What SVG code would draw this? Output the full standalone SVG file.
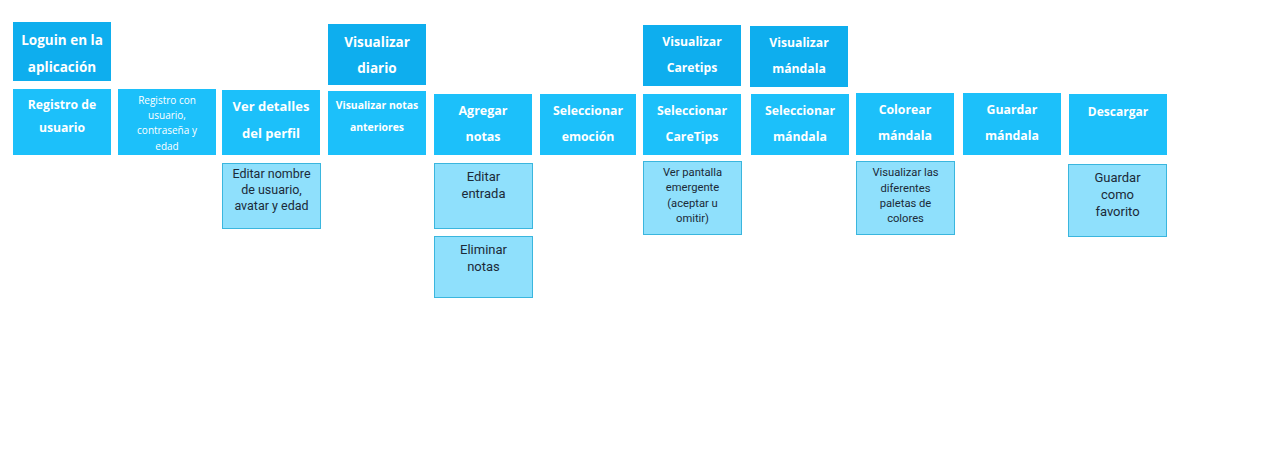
<svg xmlns="http://www.w3.org/2000/svg" width="1274" height="454" viewBox="0 0 1274 454">
<style>
.top{fill:#0eaeee}
.mid{fill:#1cc0fa}
.sub{fill:#8fe0fc;stroke:#3ab6de;stroke-width:1}
.tb{font-family:"Open Sans","Liberation Sans",sans-serif;font-weight:bold;fill:#ffffff;text-anchor:middle}
.ts{font-family:Roboto,"Liberation Sans",sans-serif;fill:#1b2a38;text-anchor:middle}
</style>
<rect width="1274" height="454" fill="#ffffff"/>
<g id="loguin"><rect class="top" x="13" y="22" width="98" height="59"/><text class="tb" font-size="13.5"><tspan x="62" y="45">Loguin en la</tspan><tspan x="62" y="72">aplicación</tspan></text></g>
<g id="visualizar-diario"><rect class="top" x="328" y="24" width="98" height="61"/><text class="tb" font-size="13.5"><tspan x="377" y="47">Visualizar</tspan><tspan x="377" y="73">diario</tspan></text></g>
<g id="visualizar-caretips"><rect class="top" x="643" y="25" width="98" height="61"/><text class="tb" font-size="12.2"><tspan x="692" y="46">Visualizar</tspan><tspan x="692" y="72">Caretips</tspan></text></g>
<g id="visualizar-mandala"><rect class="top" x="750" y="26" width="98" height="61"/><text class="tb" font-size="12.2"><tspan x="799" y="47">Visualizar</tspan><tspan x="799" y="73">mándala</tspan></text></g>

<g id="registro-usuario"><rect class="mid" x="13" y="89" width="98" height="66"/><text class="tb" font-size="12.2"><tspan x="62" y="109">Registro de</tspan><tspan x="62" y="132">usuario</tspan></text></g>
<g id="registro-con"><rect class="mid" x="118" y="89" width="98" height="66"/><text class="tb" font-size="10" style="font-weight:normal"><tspan x="167" y="104">Registro con</tspan><tspan x="167" y="119">usuario,</tspan><tspan x="167" y="134">contraseña y</tspan><tspan x="167" y="150">edad</tspan></text></g>
<g id="ver-detalles"><rect class="mid" x="222" y="90" width="98" height="65"/><text class="tb" font-size="13"><tspan x="271" y="111">Ver detalles</tspan><tspan x="271" y="138">del perfil</tspan></text></g>
<g id="visualizar-notas"><rect class="mid" x="328" y="91" width="98" height="64"/><text class="tb" font-size="10.4"><tspan x="377" y="109">Visualizar notas</tspan><tspan x="377" y="131">anteriores</tspan></text></g>
<g id="agregar-notas"><rect class="mid" x="434" y="94" width="98" height="61"/><text class="tb" font-size="12.5"><tspan x="483" y="115">Agregar</tspan><tspan x="483" y="141">notas</tspan></text></g>
<g id="seleccionar-emocion"><rect class="mid" x="540" y="94" width="96" height="61"/><text class="tb" font-size="12.3"><tspan x="588" y="115">Seleccionar</tspan><tspan x="588" y="141">emoción</tspan></text></g>
<g id="seleccionar-caretips"><rect class="mid" x="643" y="94" width="98" height="61"/><text class="tb" font-size="12.3"><tspan x="692" y="115">Seleccionar</tspan><tspan x="692" y="141">CareTips</tspan></text></g>
<g id="seleccionar-mandala"><rect class="mid" x="751" y="94" width="98" height="61"/><text class="tb" font-size="12.3"><tspan x="800" y="115">Seleccionar</tspan><tspan x="800" y="141">mándala</tspan></text></g>
<g id="colorear-mandala"><rect class="mid" x="856" y="93" width="98" height="62"/><text class="tb" font-size="12.3"><tspan x="905" y="114">Colorear</tspan><tspan x="905" y="140">mándala</tspan></text></g>
<g id="guardar-mandala"><rect class="mid" x="963" y="93" width="98" height="62"/><text class="tb" font-size="12.3"><tspan x="1012" y="114">Guardar</tspan><tspan x="1012" y="140">mándala</tspan></text></g>
<g id="descargar"><rect class="mid" x="1069" y="94" width="98" height="61"/><text class="tb" font-size="12"><tspan x="1118" y="116">Descargar</tspan></text></g>

<g id="editar-nombre"><rect class="sub" x="222.5" y="163.5" width="98" height="65"/><text class="ts" font-size="12.5"><tspan x="271.5" y="178">Editar nombre</tspan><tspan x="271.5" y="194">de usuario,</tspan><tspan x="271.5" y="210">avatar y edad</tspan></text></g>
<g id="editar-entrada"><rect class="sub" x="434.5" y="163.5" width="98" height="65"/><text class="ts" font-size="13"><tspan x="483.5" y="181">Editar</tspan><tspan x="483.5" y="198">entrada</tspan></text></g>
<g id="eliminar-notas"><rect class="sub" x="434.5" y="236.5" width="98" height="61"/><text class="ts" font-size="13"><tspan x="483.5" y="254">Eliminar</tspan><tspan x="483.5" y="271">notas</tspan></text></g>
<g id="ver-pantalla"><rect class="sub" x="643.5" y="161.5" width="98" height="73"/><text class="ts" font-size="11.2"><tspan x="692.5" y="176">Ver pantalla</tspan><tspan x="692.5" y="191">emergente</tspan><tspan x="692.5" y="207">(aceptar u</tspan><tspan x="692.5" y="222">omitir)</tspan></text></g>
<g id="visualizar-paletas"><rect class="sub" x="856.5" y="161.5" width="98" height="73"/><text class="ts" font-size="11.2"><tspan x="905.5" y="176">Visualizar las</tspan><tspan x="905.5" y="192">diferentes</tspan><tspan x="905.5" y="207">paletas de</tspan><tspan x="905.5" y="222">colores</tspan></text></g>
<g id="guardar-favorito"><rect class="sub" x="1068.5" y="164.5" width="98" height="72"/><text class="ts" font-size="13"><tspan x="1117.5" y="182">Guardar</tspan><tspan x="1117.5" y="199">como</tspan><tspan x="1117.5" y="216">favorito</tspan></text></g>
<g id="connectors"></g>
</svg>
